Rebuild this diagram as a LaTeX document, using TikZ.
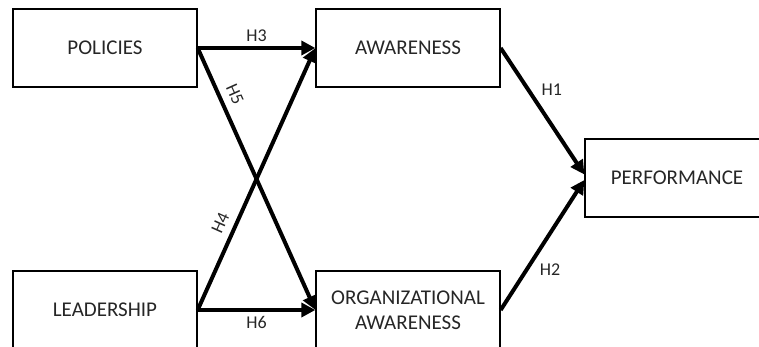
\documentclass[tikz,border=0pt]{standalone}
\usepackage{fontspec}
\setmainfont{Carlito}
\usetikzlibrary{arrows.meta}

\begin{document}
\begin{tikzpicture}[x=1pt,y=-1pt,->,>={Triangle[length=14pt,width=14pt]},
		line width=4pt,
		box/.style={rectangle,draw,line width=1.3pt,minimum width=184pt,minimum height=78pt,
			align=center,font=\fontsize{21}{25}\selectfont,text=black!85}]

		\useasboundingbox (0,0) rectangle (759,347);

		\node[box] (pol) at (105,48) {POLICIES};
		\node[box] (awa) at (408,48) {AWARENESS};
		\node[box] (lead) at (105,310) {LEADERSHIP};
		\node[box] (org) at (408,310) {ORGANIZATIONAL\\AWARENESS};
		\node[box] (perf) at (677,178) {PERFORMANCE};

		\path[every node/.style={font=\fontsize{18}{20}\selectfont,text=black!85}]
		(pol.east) edge node [above=1pt, midway] {H3} (awa.west)
		(lead.east) edge node [below=1pt, midway] {H6} (org.west)
		(pol.east) edge node [above=4pt, sloped, pos=0.2] {H5} (org.west)
		(lead.east) edge node [above=4pt, sloped, pos=0.31] {H4} (awa.west)
		(awa.east) edge node [right=8pt, pos=0.33] {H1} ([yshift=3.5pt]perf.west)
		(org.east) edge node [right=8pt, pos=0.31] {H2} ([yshift=-2pt]perf.west);
	\end{tikzpicture}
\end{document}
